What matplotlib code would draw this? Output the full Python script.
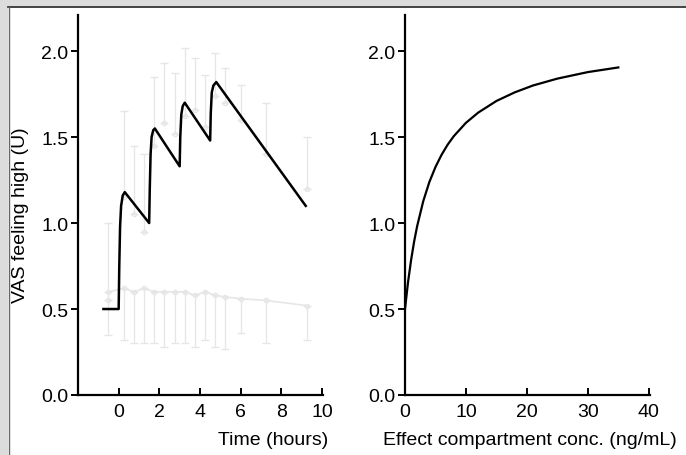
import matplotlib
matplotlib.use("Agg")
import matplotlib.pyplot as plt
from matplotlib.patches import Rectangle

plt.rcParams['font.family'] = ['Liberation Sans', 'DejaVu Sans']

# Model-predicted VAS "feeling high" over time (doses at 0, 1.5, 3, 4.5 h)
time_h = [-0.75, 0.0, 0.03, 0.07, 0.12, 0.2, 0.3, 1.5, 1.53, 1.57, 1.62, 1.7, 1.78,
          3.0, 3.03, 3.08, 3.15, 3.25, 4.5, 4.53, 4.58, 4.66, 4.8, 7.0, 9.2]
vas_pred = [0.5, 0.5, 0.75, 0.98, 1.10, 1.16, 1.18, 1.0, 1.2, 1.40, 1.50, 1.54, 1.55,
            1.33, 1.50, 1.63, 1.68, 1.70, 1.48, 1.64, 1.76, 1.80, 1.82, 1.46, 1.10]

# Observed means (faint) for active and placebo sessions
obs_t = [-0.5, 0.25, 0.75, 1.25, 1.75, 2.25, 2.75, 3.25, 3.75, 4.25, 4.75, 5.25, 6.0, 7.25, 9.25]
active_mean = [0.55, 1.15, 1.05, 0.95, 1.45, 1.58, 1.52, 1.62, 1.66, 1.56, 1.74, 1.70, 1.60, 1.40, 1.20]
active_err = [0.45, 0.50, 0.40, 0.45, 0.40, 0.35, 0.35, 0.40, 0.30, 0.30, 0.25, 0.20, 0.20, 0.30, 0.30]
placebo_mean = [0.60, 0.62, 0.60, 0.62, 0.60, 0.60, 0.60, 0.60, 0.58, 0.60, 0.58, 0.57, 0.56, 0.55, 0.52]
placebo_err = [0.25, 0.30, 0.30, 0.32, 0.30, 0.32, 0.30, 0.30, 0.30, 0.28, 0.30, 0.30, 0.20, 0.25, 0.20]

# Concentration-effect relationship (effect compartment)
conc = [0, 0.5, 1, 1.5, 2, 3, 4, 5, 6, 7, 8, 10, 12, 15, 18, 21, 25, 30, 35]
effect = [0.5, 0.657, 0.785, 0.893, 0.983, 1.128, 1.239, 1.326, 1.397, 1.456, 1.505,
          1.583, 1.642, 1.710, 1.760, 1.800, 1.840, 1.878, 1.905]

yticks = [0.0, 0.5, 1.0, 1.5, 2.0]
ylabels = ['0.0', '0.5', '1.0', '1.5', '2.0']

fig = plt.figure(figsize=(6.86, 4.56), dpi=100)

# grey frame strips along top and left
fig.patches.append(Rectangle((0, 449 / 456), 1, 7 / 456, transform=fig.transFigure,
                             facecolor='#dcdcdc', edgecolor='none'))
fig.patches.append(Rectangle((0, 0), 8 / 686, 1, transform=fig.transFigure,
                             facecolor='#dcdcdc', edgecolor='none'))
fig.lines.append(plt.Line2D([8 / 686, 1], [448.5 / 456, 448.5 / 456], transform=fig.transFigure,
                            color='#222222', lw=1.2))
fig.lines.append(plt.Line2D([8.5 / 686, 8.5 / 686], [0, 448.5 / 456], transform=fig.transFigure,
                            color='#666666', lw=1.0))

ax1 = fig.add_axes([78 / 686, 60 / 456, 245 / 686, 380 / 456])
ax2 = fig.add_axes([405 / 686, 60 / 456, 245 / 686, 380 / 456])

# faint observed data: upper bars for active, lower bars for placebo
ghost = '#e6e6e6'
zeros = [0] * len(obs_t)
ax1.errorbar(obs_t, active_mean, yerr=[zeros, active_err], fmt='o', ms=3, mfc='none',
             mec=ghost, ecolor=ghost, elinewidth=0.9, capsize=3, zorder=1)
ax1.errorbar(obs_t, placebo_mean, yerr=[placebo_err, zeros], fmt='-o', ms=3, mfc='none',
             mec=ghost, ecolor=ghost, elinewidth=0.9, capsize=3, color=ghost, lw=1.2, zorder=1)
ax1.plot(time_h, vas_pred, color='black', lw=1.8, zorder=3)

ax2.plot(conc, effect, color='black', lw=1.6)

for ax in (ax1, ax2):
    for side in ('top', 'right'):
        ax.spines[side].set_visible(False)
    for side in ('left', 'bottom'):
        ax.spines[side].set_linewidth(1.6)
    ax.set_ylim(0, 2.21)
    ax.set_yticks(yticks)
    ax.set_yticklabels(ylabels)
    ax.tick_params(axis='y', direction='out', length=5, width=1.4, pad=2, labelsize=14)
    ax.tick_params(axis='x', direction='in', length=5, width=1.4, pad=6, labelsize=14)

ax1.set_xlim(-2, 10.05)
ax1.set_xticks([0, 2, 4, 6, 8, 10])
ax1.set_ylabel('VAS feeling high (U)', fontsize=14)
ax1.yaxis.set_label_coords(-0.2, 0.476)
ax1.set_xlabel('Time (hours)', fontsize=14)
ax1.xaxis.set_label_coords(1.02, -0.095)
ax1.xaxis.label.set_horizontalalignment('right')

ax2.set_xlim(0, 40.2)
ax2.set_xticks([0, 10, 20, 30, 40])
ax2.set_xlabel('Effect compartment conc. (ng/mL)', fontsize=14)
ax2.xaxis.set_label_coords(0.51, -0.095)

fig.savefig('out.png', dpi=100)
